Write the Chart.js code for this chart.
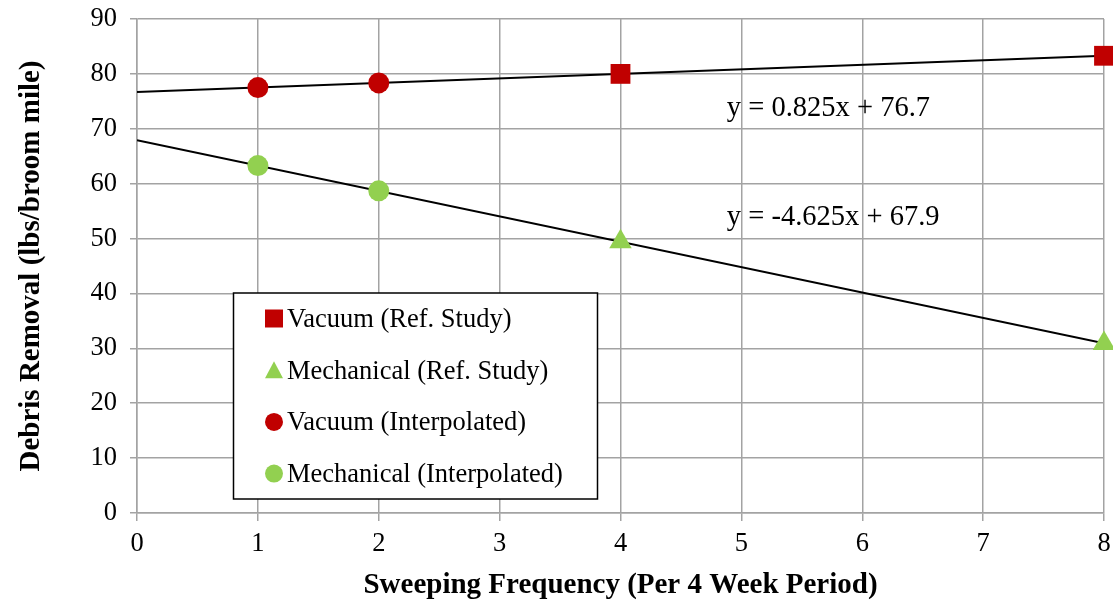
<!DOCTYPE html>
<html><head><meta charset="utf-8">
<script src="https://cdn.jsdelivr.net/npm/chart.js@4/dist/chart.umd.min.js"></script>
<style>html,body{margin:0;padding:0;background:#fff}#wrap{width:1113px;height:603px}</style>
</head><body><div id="wrap"><canvas id="c" width="1113" height="603"></canvas></div>
<script>
const xTicks = [0,1,2,3,4,5,6,7,8];
const yTicks = [0,10,20,30,40,50,60,70,80,90];
const vacuumRefX = [4, 8];
const vacuumRefY = [80.0, 83.3];
const mechRefX = [4, 8];
const mechRefY = [49.4, 30.9];
const vacuumIntX = [1, 2];
const vacuumIntY = [77.5, 78.35];
const mechIntX = [1, 2];
const mechIntY = [63.3, 58.7];
const vacTrendX = [0, 8];
const vacTrendY = [76.7, 83.3];
const mechTrendX = [0, 8];
const mechTrendY = [67.9, 30.9];
const equationTexts = ['y = 0.825x + 76.7', 'y = -4.625x + 67.9'];
const equationX = [4.88, 4.88];
const equationY = [72.25, 52.4];
const RED = '#C00000', GREEN = '#92D050', GRID = '#A3A3A3';
const pts = (xs, ys) => xs.map((x, i) => ({x, y: ys[i]}));
const FONT = '"Liberation Serif", "Times New Roman", serif';

const overlay = {
  id: 'overlay',
  afterDatasetsDraw(chart) {
    const ctx = chart.ctx, xs = chart.scales.x, ys = chart.scales.y;
    ctx.save();
    ctx.fillStyle = '#000';
    ctx.font = '28.5px ' + FONT;
    ctx.textBaseline = 'alphabetic';
    ctx.textAlign = 'left';
    equationTexts.forEach((t, i) => ctx.fillText(t, xs.getPixelForValue(equationX[i]), ys.getPixelForValue(equationY[i])));
    // legend box
    const bx = 233.5, by = 293, bw = 364, bh = 206;
    ctx.fillStyle = '#fff';
    ctx.fillRect(bx, by, bw, bh);
    ctx.strokeStyle = '#000'; ctx.lineWidth = 1.5;
    ctx.strokeRect(bx, by, bw, bh);
    const items = chart.data.datasets.filter(d => !d.trend);
    items.forEach((d, i) => {
      const base = 327 + i * 51.7, cy = base - 8.5, cx = 274;
      ctx.fillStyle = d.backgroundColor;
      ctx.beginPath();
      if (d.pointStyle === 'rect') { ctx.rect(cx - 9, cy - 9, 18, 18); }
      else if (d.pointStyle === 'triangle') { ctx.moveTo(cx, cy - 9); ctx.lineTo(cx + 9, cy + 8); ctx.lineTo(cx - 9, cy + 8); ctx.closePath(); }
      else { ctx.arc(cx, cy, 9, 0, Math.PI * 2); }
      ctx.fill();
      ctx.fillStyle = '#000';
      ctx.font = '26.5px ' + FONT;
      ctx.fillText(d.label, 287, base);
    });
    ctx.restore();
  }
};

new Chart(document.getElementById('c'), {
  type: 'scatter',
  data: {
    datasets: [
      {label: 'Vacuum (Ref. Study)', data: pts(vacuumRefX, vacuumRefY), pointStyle: 'rect', pointRadius: 14, backgroundColor: RED, borderColor: RED, borderWidth: 0, order: 1, clip: false},
      {label: 'Mechanical (Ref. Study)', data: pts(mechRefX, mechRefY), pointStyle: 'triangle', pointRadius: 13, backgroundColor: GREEN, borderColor: GREEN, borderWidth: 0, order: 1, clip: false},
      {label: 'Vacuum (Interpolated)', data: pts(vacuumIntX, vacuumIntY), pointStyle: 'circle', pointRadius: 10.5, backgroundColor: RED, borderColor: RED, borderWidth: 0, order: 1, clip: false},
      {label: 'Mechanical (Interpolated)', data: pts(mechIntX, mechIntY), pointStyle: 'circle', pointRadius: 10.5, backgroundColor: GREEN, borderColor: GREEN, borderWidth: 0, order: 1, clip: false},
      {label: 'Vac trend', trend: true, data: pts(vacTrendX, vacTrendY), showLine: true, pointRadius: 0, borderColor: '#000', borderWidth: 2, order: 2},
      {label: 'Mech trend', trend: true, data: pts(mechTrendX, mechTrendY), showLine: true, pointRadius: 0, borderColor: '#000', borderWidth: 2, order: 2}
    ]
  },
  options: {
    responsive: false,
    animation: false,
    devicePixelRatio: 1,
    layout: {autoPadding: false, padding: {top: 19, right: 9, left: 0, bottom: 0}},
    plugins: {legend: {display: false}, tooltip: {enabled: false}},
    scales: {
      x: {
        type: 'linear', min: 0, max: 8,
        afterBuildTicks: s => { s.ticks = xTicks.map(v => ({value: v})); },
        afterFit: s => { s.height = 90; s.paddingLeft = 0; s.paddingRight = 0; },
        grid: {color: GRID, lineWidth: 1.5, tickLength: 8, tickColor: GRID},
        border: {color: GRID, width: 1.5},
        ticks: {color: '#000', font: {family: FONT, size: 26.5}, padding: 7, maxRotation: 0},
        title: {display: true, text: 'Sweeping Frequency (Per 4 Week Period)', color: '#000', font: {family: FONT, size: 29, weight: 'bold'}, padding: {top: 0, bottom: 0}}
      },
      y: {
        type: 'linear', min: 0, max: 90,
        afterBuildTicks: s => { s.ticks = yTicks.map(v => ({value: v})); },
        afterFit: s => { s.width = 137; s.paddingTop = 0; s.paddingBottom = 0; },
        grid: {color: GRID, lineWidth: 1.5, tickLength: 7, tickColor: GRID},
        border: {color: GRID, width: 1.5},
        ticks: {color: '#000', font: {family: FONT, size: 26.5}, padding: 13},
        title: {display: true, text: 'Debris Removal (lbs/broom mile)', color: '#000', font: {family: FONT, size: 29, weight: 'bold'}, padding: {top: 14.5, bottom: 0}}
      }
    }
  },
  plugins: [overlay]
});
</script></body></html>
